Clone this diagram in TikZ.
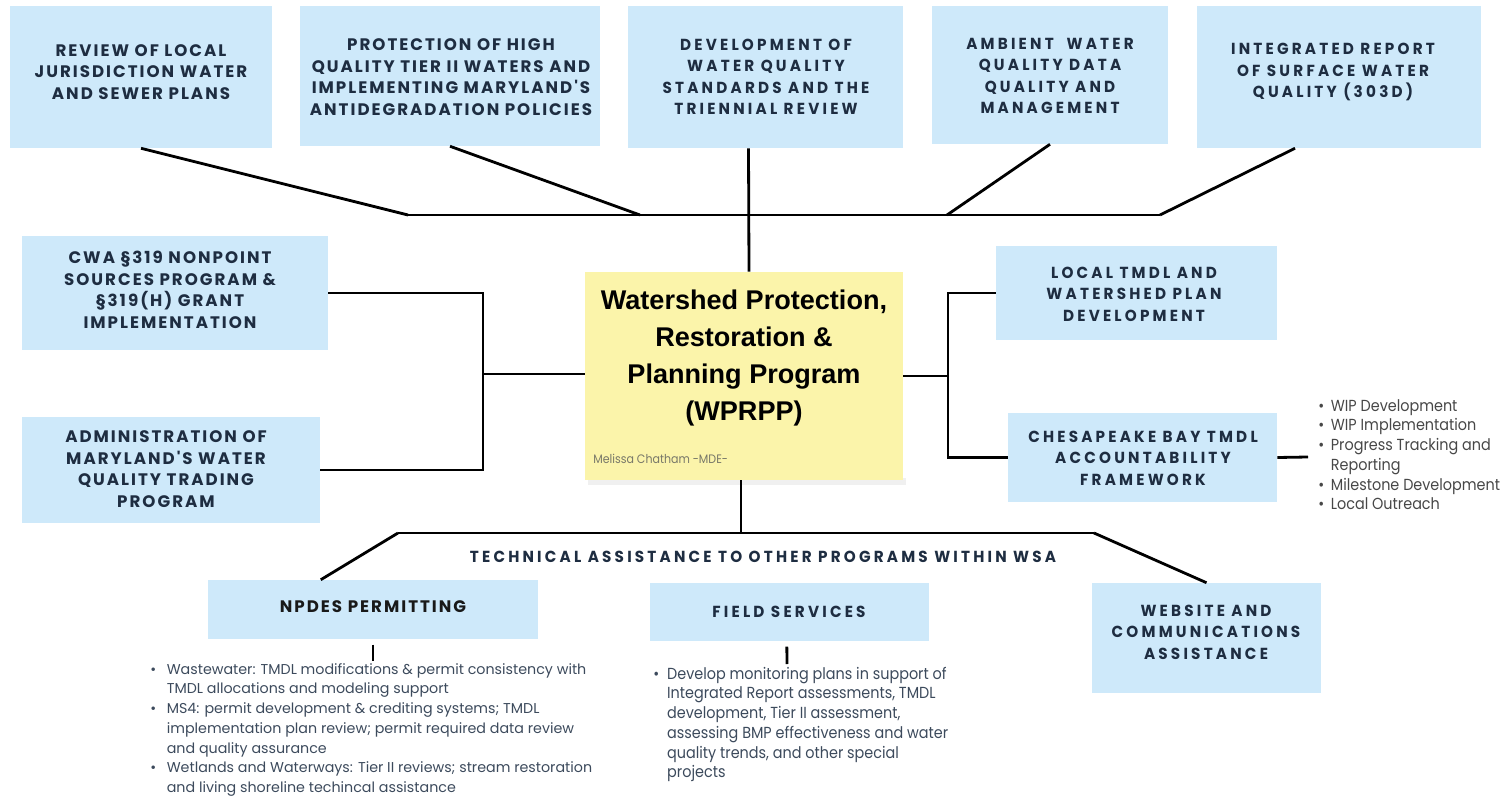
\documentclass[tikz,border=0pt]{standalone}
\usepackage{fontspec}
\setmainfont{Poppins}
\newfontfamily\capsfont{Poppins}[LetterSpace=12]
\newfontfamily\capscond{Poppins}[LetterSpace=20,FakeStretch=0.95]
\newfontfamily\bodyfont{Poppins}
\newfontfamily\bodycond{Poppins}[FakeStretch=0.9]
\newfontfamily\titlefont{Liberation Sans}
\usetikzlibrary{fit,calc}
\definecolor{boxblue}{RGB}{206,233,250}
\definecolor{hubyellow}{RGB}{251,244,170}
\definecolor{navy}{RGB}{30,45,65}
\definecolor{bodygray}{RGB}{60,74,92}
\definecolor{notegray}{RGB}{120,120,105}
\newcommand\bl{\textbullet}
\begin{document}
\begin{tikzpicture}[x=0.75pt,y=-0.75pt,
  box/.style={fill=boxblue,draw=none,inner sep=0pt},
  hubbox/.style={fill=hubyellow,draw=none,inner sep=0pt},
  capsA/.style={text=navy,align=center,inner sep=0pt,font=\capsfont\bfseries\fontsize{12.5}{16.1}\selectfont},
  capsB/.style={text=navy,align=center,inner sep=0pt,font=\capscond\bfseries\fontsize{12}{16.1}\selectfont},
  listA/.style={text=bodygray,inner sep=0pt,anchor=north west,font=\bodyfont\fontsize{10.7}{14.8}\selectfont},
  listB/.style={text=bodygray,inner sep=0pt,anchor=north west,font=\bodycond\fontsize{12}{14.8}\selectfont},
  conn/.style={line width=2.1pt,black}]
\useasboundingbox (0,0) rectangle (1511,796);

% ---- top row of programme areas
\node[box,fit={(10,6)(272,148)}] (b1) {};
\node[capsA] (b1-t) at (141,72) {REVIEW OF LOCAL\\JURISDICTION WATER\\AND SEWER PLANS};
\node[box,fit={(300,6)(600,146)}] (b2) {};
\node[capsA] (b2-t) at (451,77) {PROTECTION OF HIGH\\QUALITY TIER II WATERS AND\\IMPLEMENTING MARYLAND'S\\ANTIDEGRADATION POLICIES};
\node[box,fit={(628,6)(903,148)}] (b3) {};
\node[capsB] (b3-t) at (766,77) {DEVELOPMENT OF\\WATER QUALITY\\STANDARDS AND THE\\TRIENNIAL REVIEW};
\node[box,fit={(932,6)(1168,144)}] (b4) {};
\node[capsB] (b4-t) at (1050,76) {AMBIENT~ WATER\\QUALITY DATA\\QUALITY AND\\MANAGEMENT};
\node[box,fit={(1197,6)(1481,148)}] (b5) {};
\node[capsB] (b5-t) at (1333,72) {INTEGRATED REPORT\\OF SURFACE WATER\\QUALITY (303D)};

% ---- central programme box
\fill[black!6] (588,478) rectangle (906,485);
\node[hubbox,fit={(585,272)(903,480)}] (hub) {};
\node[align=center,inner sep=0pt,font=\titlefont\bfseries\fontsize{20.3}{27.8}\selectfont] (hub-t) at (744,358)
  {Watershed Protection,\\Restoration \&\\Planning Program\\(WPRPP)};
\node[anchor=west,inner sep=0pt,text=notegray,font=\bodycond\fontsize{9.2}{11}\selectfont] (hub-n) at (593,459) {Melissa Chatham -MDE-};

% ---- left side
\node[box,fit={(22,236)(328,350)}] (cwa) {};
\node[capsA] (cwa-t) at (170,290) {CWA §319 NONPOINT\\SOURCES PROGRAM \&\\§319(H) GRANT\\IMPLEMENTATION};
\node[box,fit={(22,417)(320,523)}] (adm) {};
\node[capsA] (adm-t) at (166,469) {ADMINISTRATION OF\\MARYLAND'S WATER\\QUALITY TRADING\\PROGRAM};

% ---- right side
\node[box,fit={(996,246)(1277,340)}] (ltm) {};
\node[capsB] (ltm-t) at (1134,294) {LOCAL TMDL AND\\WATERSHED PLAN\\DEVELOPMENT};
\node[box,fit={(1008,413)(1277,502)}] (cbf) {};
\node[capsB] (cbf-t) at (1143,458) {CHESAPEAKE BAY TMDL\\ACCOUNTABILITY\\FRAMEWORK};
\node[listB,text=black!72] (cbf-l) at (1318,397) {%
  \begin{tabular}{@{}l@{\hspace{5pt}}l@{}}
  \bl & WIP Development\\
  \bl & WIP Implementation\\
  \bl & Progress Tracking and\\
      & Reporting\\
  \bl & Milestone Development\\
  \bl & Local Outreach
  \end{tabular}};

% ---- bottom row
\node[capsB] (ta) at (763,557) {TECHNICAL ASSISTANCE TO OTHER PROGRAMS WITHIN WSA};
\node[box,fit={(208,580)(538,639)}] (np) {};
\node[capsA,text=black!90] (np-t) at (373,607) {NPDES PERMITTING};
\node[box,fit={(650,583)(929,641)}] (fs) {};
\node[capsB] (fs-t) at (789,612) {FIELD SERVICES};
\node[box,fit={(1092,583)(1321,693)}] (web) {};
\node[capsB] (web-t) at (1206,632) {WEBSITE AND\\COMMUNICATIONS\\ASSISTANCE};

\node[listA] (np-l) at (150,660) {%
  \begin{tabular}{@{}l@{\hspace{8pt}}l@{}}
  \bl & Wastewater: TMDL modifications \& permit consistency with\\
      & TMDL allocations and modeling support\\
  \bl & MS4: permit development \& crediting systems; TMDL\\
      & implementation plan review; permit required data review\\
      & and quality assurance\\
  \bl & Wetlands and Waterways: Tier II reviews; stream restoration\\
      & and living shoreline techincal assistance
  \end{tabular}};
\node[listB] (fs-l) at (653,665) {%
  \begin{tabular}{@{}l@{\hspace{6pt}}l@{}}
  \bl & Develop monitoring plans in support of\\
      & Integrated Report assessments, TMDL\\
      & development, Tier II assessment,\\
      & assessing BMP effectiveness and water\\
      & quality trends, and other special\\
      & projects
  \end{tabular}};

% ---- junction points
\coordinate (tj1) at (408,215);
\coordinate (tj2) at (640,215);
\coordinate (tj3) at (947,215);
\coordinate (tj4) at (1160,215);
\coordinate (lj) at (483,374);
\coordinate (rj) at (948,376);
\coordinate (bj1) at (398,533);
\coordinate (bj2) at (1094,533);
\coordinate (cbf-end) at (1308,457);
\coordinate (np-tick) at (373,661);
\coordinate (fs-tick) at (787,664);

% ---- connectors
\draw[conn] (tj1) -- (tj4);
\draw[conn] (b1.south) -- (tj1);
\draw[conn] (b2.south) -- (tj2);
\draw[conn] ($(b3.south)+(-17,0)$) -- ($(hub.north)+(5,0)$);
\draw[conn] (b4.south) -- (tj3);
\draw[conn] ($(b5.south)+(-44,0)$) -- (tj4);

\draw[conn] (cwa.east) -| (lj) |- (adm.east);
\draw[conn] (lj) -- (lj -| hub.west);
\draw[conn] (hub.east) -- (hub.east -| rj);
\draw[conn] (ltm.west) -| (rj) |- (cbf.west);
\draw[conn] (cbf.east) -- (cbf-end);

\draw[conn] ($(hub.south)+(-3,0)$) -- ($(hub.south |- bj1)+(-3,0)$);
\draw[conn] (bj1) -- (bj2);
\draw[conn] ($(np.north west)!0.342!(np.north east)$) -- (bj1);
\draw[conn] (bj2) -- (web.north);
\draw[conn] ([yshift=-4pt]np.south) -- (np-tick);
\draw[conn] ([xshift=-2pt,yshift=-4pt]fs.south) -- (fs-tick);
\end{tikzpicture}
\end{document}
